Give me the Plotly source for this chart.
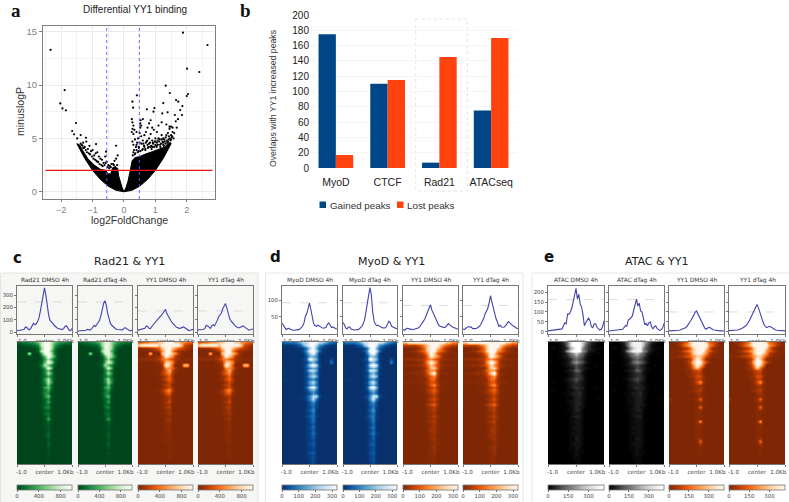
import plotly.graph_objects as go

W, H = 789, 502

# ---------- panel a data ----------
VOLCANO_X = [-2.34,-1.89,-2.03,-1.96,-1.85,-1.53,-1.65,-1.59,-1.38,-1.49,-1.21,-0.89,-0.25,-0.57,
 1.88,2.66,2.01,2.40,1.33,1.46,2.04,2.0,0.41,0.27,1.25,1.66,1.73,0.29,0.73,0.97,0.94,1.22,1.39,1.79,1.86,1.85,1.62,
 .25,.27,.3,.27,.33,.25,.3,.4,.45,.5,.55,.52,.55,.53,.6,.52,.35,.27,.3,.38,.42,.47,.6,.65,.7,.75,.8,.85,.9,.95,.85,.8,.7,.75,.65,.9,1.0,1.05,1.1,1.15,1.2,1.25,1.3,1.35,1.4,1.45,1.5,1.55,1.6,1.45,1.35,1.2,1.1,1.05,1.0,0.9,1.25,1.4,1.55,1.65,1.72,1.68,1.5,1.48,
 -1.4,-1.35,-1.3,-1.25,-1.2,-1.15,-1.1,-1.05,-1,-.95,-.9,-.85,-.8,-.75,-.7,-.65,-.6,-.55,-.5,-.45,-.4,-.3,-.25,-.22,-.2,-.28,-1.3,-1.22,-1.12,-.92,-.85,-.62,
 .28,.32,.36,.4,.44,.48,.52,.56,.6,.64,.68,.72,.76,.8,.84,.88,.92,.96,1.0,1.04,1.08,1.12,1.16,1.2,1.24,1.28,1.32,1.36,1.42,1.46,1.5,1.54,1.58,
 .3,.34,.4,.46,.5,.58,.62,.68,.74,.78,.83,.87,.93,.98,1.03,1.07,1.14,1.18,1.23,1.27,1.33,1.38,1.43,1.47,1.52,
 -1.38,-1.32,-1.27,-1.18,-1.08,-1.02,-.97,-.88,-.82,-.78,-.72,-.68,-.58,-.52,-.47,-.35,-.32,-.42]
VOLCANO_Y = [13.3,9.53,8.28,7.81,7.63,6.44,5.69,5.38,5.31,5.0,5.06,4.47,4.31,3.75,
 14.9,13.75,11.53,11.22,9.94,9.25,9.16,8.97,9.03,8.44,8.31,8.59,8.44,7.88,7.72,7.84,7.5,7.34,7.44,7.66,8.03,7.19,7.19,
 6.8,6.5,6.2,5.9,5.8,5.6,5.4,5.6,5.0,5.5,5.2,6.0,6.2,6.7,6.8,6.4,4.9,4.7,4.4,4.2,4.6,4.2,4.8,5.3,5.6,6.0,6.4,6.7,6.0,5.8,5.4,5.0,4.6,4.4,4.2,4.8,5.0,4.6,5.0,4.4,5.3,5.0,4.7,5.3,5.5,5.9,5.3,5.6,5.5,6.1,6.3,6.5,6.2,5.6,4.4,4.2,4.4,4.7,6.0,6.6,6.8,6.0,6.1,4.8,
 4.2,4.4,4.6,4.2,4.7,4.0,4.3,3.8,3.9,3.4,3.6,3.7,3.3,3.1,3.0,2.7,3.3,2.8,2.5,2.4,2.6,2.9,3.1,2.5,3.4,2.3,4.1,3.9,3.6,3.0,2.8,2.5,
 3.4,3.9,3.6,4.4,3.7,4.1,3.8,4.5,4.0,4.3,3.9,4.7,4.1,4.5,4.2,4.0,4.6,4.2,4.7,4.2,4.4,4.7,4.2,4.9,4.6,4.9,4.5,4.8,4.9,5.0,4.9,5.2,5.0,
 3.7,3.5,3.9,3.8,4.6,3.9,4.5,4.0,4.8,4.2,4.6,4.3,4.5,4.7,4.3,4.8,4.9,4.5,4.7,4.3,5.1,4.6,5.2,4.5,5.1,
 4.5,4.3,4.1,3.7,3.5,3.3,3.1,2.9,2.8,2.6,2.5,2.4,2.7,2.3,2.2,2.6,2.5,2.3]
MASS_LEFT_X = [0,-.1,-.25,-.5,-.75,-1,-1.25,-1.5,-1.42,-1.3,-1.15,-.95,-.75,-.58,-.5,-.42,-.36,-.3,-.2,-.17,-.13,-.06,0]
MASS_LEFT_Y = [0,.03,.13,.52,1.15,2,3.12,4.5,4.4,3.8,3.1,2.5,2.1,2.0,1.65,1.7,2.25,2.3,2.2,1.5,1,.4,0]
MASS_RIGHT_X = [0,.25,.5,.75,1,1.25,1.5,1.45,1.3,1.1,.9,.7,.5,.35,.26,.2,.13,.06,0]
MASS_RIGHT_Y = [0,.13,.52,1.15,2,3.12,4.5,4.65,4.2,3.95,3.75,3.55,3.3,3.2,2.9,2.0,1.0,.35,0]
FC_CUTS = [-0.55, 0.49]
P_CUT = 2
P_CUT_X = [-2.5, 2.82]

# ---------- panel b data ----------
BAR_CATS = ["MyoD", "CTCF", "Rad21", "ATACseq"]
GAINED = [175, 110, 7, 75]
LOST = [17, 115, 145, 170]

# ---------- profile data (-1 kb .. +1 kb) ----------
PROFILE_N = 41
C_PROFILES = [
 [10,12,12,10,14,20,38,40,25,18,30,50,70,60,65,85,115,170,240,300,360,300,210,140,95,85,70,55,40,35,28,25,22,20,30,48,50,30,15,12,28],
 [8,9,8,8,10,12,14,22,18,16,25,40,55,45,60,75,95,135,190,235,255,215,150,100,70,55,42,32,25,20,18,16,14,18,30,35,28,16,12,10,16],
 [15,18,18,20,22,30,50,45,30,28,45,60,65,85,105,115,125,135,150,170,185,150,125,105,90,75,60,45,38,35,30,32,38,42,35,28,18,12,15,18,22],
 [18,20,20,18,20,30,55,50,35,30,50,60,50,70,95,125,140,155,190,215,232,195,140,110,90,80,65,50,40,35,35,40,45,50,40,30,22,15,18,20,25],
]
D_PROFILES = [
 [32,25,16,12,15,16,13,11,10,10,10,11,12,14,18,22,32,52,60,78,92,72,45,30,24,22,25,22,19,18,16,16,18,28,32,26,18,20,17,14,13],
 [33,27,17,14,20,20,14,12,11,11,11,12,14,17,22,30,42,65,95,115,137,115,65,38,28,24,25,22,20,18,17,17,20,32,37,33,22,20,18,15,14],
 [12,10,13,16,15,13,14,12,13,14,15,17,20,25,30,38,45,55,62,72,86,70,60,50,42,35,25,22,20,19,18,20,26,30,26,22,20,18,16,14,13],
 [14,12,16,20,21,19,20,15,14,15,16,18,22,28,35,45,58,65,75,92,113,95,75,55,45,35,22,25,20,19,20,24,32,36,33,28,24,22,18,16,15],
]
E_PROFILES = [
 [4,5,5,5,6,7,8,9,10,12,14,30,45,40,90,88,100,120,150,185,220,165,190,140,125,85,30,45,60,70,55,25,20,40,40,22,15,8,12,25,55],
 [3,4,4,4,5,6,7,7,8,9,12,22,30,28,60,62,70,80,110,135,165,130,145,105,100,70,35,42,30,45,50,25,15,25,30,15,10,6,10,18,42],
 [4,4,4,4,5,5,6,7,8,10,12,15,20,26,35,45,58,70,85,98,105,90,72,55,42,30,18,12,15,22,20,14,10,8,6,7,6,4,4,3,3],
 [5,5,5,5,6,7,8,10,12,16,20,24,30,38,48,62,78,95,112,128,138,122,95,72,55,38,25,20,22,27,24,18,12,10,7,6,5,5,4,4,4],
]
C_REF = [245, 245, 172, 172]
D_REF = [92, 92, 84, 84]
E_REF = [163, 163, 100, 100]

# ---------- heatmap intensity (digit 0..9, top row first) ----------
DIGIT_LEVELS = [0, .025, .06, .11, .17, .25, .35, .5, .72, 1.0]
GREEN_C = [
"3344556789987655443","1112233589986431111","0000011379985210000","0000001289974100000",
"0000800069984100000","0000000037986100000","0000000016863100000","0000000127984000000",
"0000001148752000000","0000000026970000000","0000000015741000000","0000000015860000000",
"0000000024640000000","0000000016851000000","0000000025860000000","0000000014730000000",
"0000000026740000000","0000000014620000000","0000000025510000000","0000000015720000000",
"0000000013510000000","0000000003620000000","0000000013400000000","0000000014510000000",
"0000000002310000000","0000000003410000000","0000000002400000000","0000000002620000000",
"0000000001300000000","0000000001210000000","0000000001200000000","0000000000200000000",
"0000000001300000000","0000000001300000000","0000000000200000000","0000000000200000000",
"0000000000300000000","0000000000200000000","0000000000100000000","0000000000200000000",
"0000000000100000000","0000000000100000000","0000000000100000000","0000000000100000000",
]
ORANGE_C = [
"5566777889998877665","8999999899999985431","1122345689987654321","0000012479975322100",
"0000800089987410000","0001112269874210000","2222223467653211111","0000001248873110000",
"0000000139860008800","0000001127763100000","0000000036851000000","0000001146741000000",
"0000000024630000000","0000000125640000000","0000000013530000000","0000000024510000000",
"0000000013530000000","0000001136741000000","0000000125620000000","0000000013410000000",
"0000000012410000000","0000000013510000000","0000000012300000000","0000000013400000000",
"0000000002300000000","0000000012310000000","0000000001200000000","0000000002300000000",
"0000000001200000000","0000000001200000000","0000000001100000000","0000000001200000000",
"0000000001100000000","0000000001100000000","0000000001100000000","0000000001100000000",
"0000000000100000000","0000000000100000000","0000000000100000000","0000000000100000000",
"0000000000100000000","0000000000100000000","0000000000000000000","0000000000000000000",
]
BLUE_D = [
"4555567889998876544","1111234789986532111","0000011258974210000","0000001369985100000",
"0000000158972000000","0000000137761000000","0000000249872000300","1000000126751000500",
"0000000148983000000","0000000136762000000","1100000148871000000","0000000126751000000",
"0000000137871000000","1110000125641000000","0000000137860000000","0000000126751000000",
"0000000148971000000","0000000126750000000","0000000014640000000","0000001136883110000",
"0000000126851000000","0000000014630000000","0000000014530000000","0000000013520000000",
"0000000024620000000","0000000013510000000","0000000024520000000","0000000013510000000",
"0000000013510000000","0000000012410000000","0000000013510000000","0000000012410000000",
"0000000013520000000","0000000012410000000","0000000012410000000","0000000012310000000",
"0000000013410000000","0000000012310000000","0000000012310000000","0000000013410000000",
"0000000012310000000","0000000002310000000","0000000002310000000","0000000001200000000",
]
ORANGE_D = [
"8899999999999988776","4444456789998765443","0000124689987532100","0012245689976532100",
"1000123579864321110","0000012369875210000","2222233467653221111","0000012479862100000",
"1112223468753211100","0000001258862100000","0000012367741000000","1111222358951110000",
"0000011246741000000","0000001136630000000","1111111235531110000","0000001136741000000",
"0000000124530000000","0000011135641100000","0000000124530000000","0000000013420000000",
"0000000024530000000","1000000013420000000","0000000135630000000","0000000023420000000",
"0000000013410000000","0000000012310000000","0000000013420000000","0000000012310000000",
"0000000023410000000","0000000012310000000","0000000002310000000","0000000013310000000",
"0000000002310000000","0000000012210000000","0000000002310000000","0000000001210000000",
"0000000001210000000","0000000002300000000","0000000001200000000","0000000001200000000",
"0000000001200000000","0000000001100000000","0000000001100000000","0000000001100000000",
]
GRAY_E = [
"0001246899987532100","0000136899986421000","0110124789975421110","0000137899976321000",
"1000124678764210100","0000123567653100000","0000012356542100000","1100012467653100000",
"0000012345431001000","0000001235432100000","0000012346531000000","0100001234421000010",
"0000001234431000000","0000012345431000000","0010001234321000000","0000001233321000000",
"0000001234331001000","0110001123321000000","0000011233421000000","0000001123321000000",
"0000001123321000100","0000001223320000000","0000001123321000000","0000000123220000000",
"0000001123310000000","0000000122210000000","0000000123310000000","0000000112210000000",
"0000000122210000000","0000000112210000000","0000000122210000000","0000000112210000000",
"0000000122210000000","0000000112210000000","0000000113210000000","0000000112210000000",
"0000000122210000000","0000000112200000000","0000000112110000000","0000000012110000000",
"0000000012100000000","0000000011100000000","0000000001100000000","0000000001100000000",
]
ORANGE_E = [
"0012356899998654210","0012467899999764211","0000134689998621000","0112356789997642111",
"0000134689987421000","1112345678875311100","0000012479862100000","0000013589975200000",
"0000002479860000000","0000012368630000000","0000001245510000000","0000001134410000000",
"0000001235520000000","0000000124410000000","0000000125730000000","0000000113310000000",
"0000000012310000000","0000000123410000000","0000000002300000000","0000000001210000000",
"3000000012610000000","0000000001210000000","0000000001200000000","0000000001610000000",
"0000000001200000000","0000000001100000000","0000000001100000000","0000000001100000000",
"0000000002700000000","0000000001200000000","0000000001100000000","0000000001100000000",
"0000000001100000000","0000000001100000000","0000000001200000000","0000000001600000000",
"0000000000300000000","0000000000100000000","0000000000100000000","0000000000100000000",
"0000000000100000000","0000000000000000000","0000000000000000000","0000000000000000000",
]
MATRICES = dict(gc=GREEN_C, oc=ORANGE_C, bd=BLUE_D, od=ORANGE_D, ge=GRAY_E, oe=ORANGE_E)
GAINS = dict(c=[1.0, 0.88, 1.0, 1.0], d=[1.0, 1.12, 1.0, 1.1], e=[1.0, 0.9, 1.0, 1.05])

C_TITLES = ["Rad21 DMSO 4h", "Rad21 dTag 4h", "YY1 DMSO 4h", "YY1 dTag 4h"]
D_TITLES = ["MyoD DMSO 4h", "MyoD dTag 4h", "YY1 DMSO 4h", "YY1 dTag 4h"]
E_TITLES = ["ATAC DMSO 4h", "ATAC dTag 4h", "YY1 DMSO 4h", "YY1 dTag 4h"]

# ---------- helpers ----------
def fx(p): return p / W
def fy(p): return 1 - p / H
def dom_x(a, b): return [fx(a), fx(b)]
def dom_y(top, bot): return [fy(bot), fy(top)]

fig = go.Figure()
layout_axes = {}
axis_no = [0]
def new_axes(xcfg, ycfg):
    axis_no[0] += 1
    n = axis_no[0]
    s = "" if n == 1 else str(n)
    xcfg = dict(xcfg, anchor="y" + s)
    ycfg = dict(ycfg, anchor="x" + s)
    layout_axes["xaxis" + s] = xcfg
    layout_axes["yaxis" + s] = ycfg
    return "x" + s, "y" + s

SANS = "Liberation Sans"
DJ = "DejaVu Sans"
annots = []
def text(x, y, s, size, font=SANS, color="#222", bold=False, angle=0, xanchor="center"):
    annots.append(dict(x=fx(x), y=fy(y), xref="paper", yref="paper", text=("<b>%s</b>" % s) if bold else s,
                       showarrow=False, font=dict(family=font, size=size, color=color), textangle=angle,
                       xanchor=xanchor, yanchor="middle", borderpad=0, bgcolor="rgba(0,0,0,0)"))

shapes = []
def rect(x0, y0, x1, y1, fill=None, line="rgba(0,0,0,0)", width=1, dash="solid", layer="below"):
    shapes.append(dict(type="rect", xref="paper", yref="paper", x0=fx(x0), x1=fx(x1), y0=fy(y0), y1=fy(y1),
                       fillcolor=fill or "rgba(0,0,0,0)", line=dict(color=line, width=width, dash=dash), layer=layer))

# ---------- panel backgrounds ----------
rect(0.5, 273, 258, 503, fill="#f6f6f4", line="#e4e4e4")
rect(265.5, 273, 523, 503, fill="#ffffff", line="#e8e8e8")
rect(532, 273, 790, 503, fill="#ffffff", line="#e8e8e8")

# ---------- panel a ----------
GRAY = "#7f7f7f"
xa, ya = new_axes(
    dict(domain=dom_x(43, 215), range=[-2.58, 2.9], tickvals=[-2, -1, 0, 1, 2], ticktext=["\u22122", "\u22121", "0", "1", "2"],
         showgrid=True, gridcolor="#ebebeb", gridwidth=1, zeroline=False, showline=True, mirror=True, linecolor=GRAY, linewidth=1,
         ticks="outside", ticklen=2, tickcolor=GRAY, tickfont=dict(family=SANS, size=9, color=GRAY),
         minor=dict(dtick=0.5, showgrid=True, gridcolor="#f3f3f3", gridwidth=0.5)),
    dict(domain=dom_y(26, 199), range=[-0.68, 15.53], tickvals=[0, 5, 10, 15],
         showgrid=True, gridcolor="#ebebeb", gridwidth=1, zeroline=False, showline=True, mirror=True, linecolor=GRAY, linewidth=1,
         ticks="outside", ticklen=3, tickcolor=GRAY, tickfont=dict(family=SANS, size=9.5, color=GRAY),
         minor=dict(dtick=2.5, showgrid=True, gridcolor="#f3f3f3", gridwidth=0.5)))
for mx, my in ((MASS_LEFT_X, MASS_LEFT_Y), (MASS_RIGHT_X, MASS_RIGHT_Y)):
    fig.add_trace(go.Scatter(x=mx, y=my, mode="lines", fill="toself", fillcolor="black", line=dict(color="black", width=1),
                             xaxis=xa, yaxis=ya, showlegend=False))
fig.add_trace(go.Scatter(x=VOLCANO_X, y=VOLCANO_Y, mode="markers", marker=dict(color="black", size=2.2),
                         xaxis=xa, yaxis=ya, showlegend=False))
for c in FC_CUTS:
    fig.add_trace(go.Scatter(x=[c, c], y=[-0.68, 15.53], mode="lines", line=dict(color="#5a5aff", width=0.9, dash="dot"),
                             xaxis=xa, yaxis=ya, showlegend=False))
fig.add_trace(go.Scatter(x=P_CUT_X, y=[P_CUT, P_CUT], mode="lines", line=dict(color="#ee1111", width=1.4),
                         xaxis=xa, yaxis=ya, showlegend=False))
text(135, 10, "Differential YY1 binding", 10)
text(129, 220, "log2FoldChange", 10.5, color="#333")
text(20, 112, "minuslogP", 10.5, color="#333", angle=-90)

# ---------- panel b ----------
BLUE, ORANGE = "#004586", "#ff420e"
xb, yb = new_axes(
    dict(domain=dom_x(310, 517), type="category", categoryorder="array", categoryarray=BAR_CATS, range=[-0.5, 3.5],
         showgrid=False, zeroline=False, showline=False, ticks="", ticklabelstandoff=6, tickfont=dict(family=SANS, size=10.5, color="#222")),
    dict(domain=dom_y(15, 168), range=[0, 200], dtick=20, showgrid=True, gridcolor="#f6f6f6", gridwidth=0.6, zeroline=False,
         ticks="", tickfont=dict(family=SANS, size=10, color="#222"),
         title=None))
fig.add_trace(go.Bar(x=BAR_CATS, y=GAINED, name="Gained peaks", marker=dict(color=BLUE, line=dict(width=0)), xaxis=xb, yaxis=yb, showlegend=False))
fig.add_trace(go.Bar(x=BAR_CATS, y=LOST, name="Lost peaks", marker=dict(color=ORANGE, line=dict(width=0)), xaxis=xb, yaxis=yb, showlegend=False))
text(273, 98, "Overlaps with YY1 increased peaks", 8.7, color="#333", angle=-90)
rect(415.7, 19, 467.3, 191, line="#dddddd", width=0.8, dash="dot")
rect(319.5, 201.5, 326, 208, fill=BLUE)
rect(397, 201.5, 403.5, 208, fill=ORANGE)
text(329, 205, "Gained peaks", 9.8, xanchor="left", color="#333")
text(406, 205, "Lost peaks", 9.8, xanchor="left", color="#333")

# ---------- heat panels ----------
LINE = "#777777"
def draw_group(boxes, titles, profiles, refs, prange, yticks, mats, scales, gains, zmax, cticks):
    for i, (a, b) in enumerate(boxes):
        xp = [-1 + 2 * k / (PROFILE_N - 1) for k in range(PROFILE_N)]
        xx, yy = new_axes(
            dict(domain=dom_x(a, b), range=[-1, 1], tickvals=[-0.84, 0, 0.76], ticktext=["-1.0", "center", "1.0Kb"], ticks="",
                 tickfont=dict(family=DJ, size=5.6, color="#444"), showgrid=False, zeroline=False, showline=True, mirror=True,
                 linecolor=LINE, linewidth=0.9, ticklabelstandoff=1,
                 minor=dict(tickvals=[-1, 0, 1], ticks="outside", ticklen=2, tickcolor=LINE, tickwidth=0.6)),
            dict(domain=dom_y(286, 334), range=prange, tickvals=yticks, ticks="outside", ticklen=2, tickcolor=LINE, tickwidth=0.6,
                 showticklabels=(i == 0), tickfont=dict(family=DJ, size=5.4, color="#444"), showgrid=False, zeroline=False,
                 showline=True, mirror=True, linecolor=LINE, linewidth=0.9))
        fig.add_trace(go.Scatter(x=[-1, 1], y=[refs[i], refs[i]], mode="lines", line=dict(color="#cfcfcf", width=0.7, dash="dash"),
                                 xaxis=xx, yaxis=yy, showlegend=False))
        fig.add_trace(go.Scatter(x=xp, y=profiles[i], mode="lines", line=dict(color="#4343ac", width=1.1),
                                 xaxis=xx, yaxis=yy, showlegend=False))
        text((a + b) / 2, 280, titles[i], 5.9, font=DJ, color="#333")
    for i, (a, b) in enumerate(boxes):
        rows = MATRICES[mats[i]]
        z = [[DIGIT_LEVELS[int(ch)] * zmax * gains[i] for ch in r[:19].ljust(19, "0")] for r in rows]
        xh = [-1 + 2 * k / 18 for k in range(19)]
        yh = [k for k in range(len(rows))]
        xx, yy = new_axes(
            dict(domain=dom_x(a, b), range=[-1, 1], tickvals=[-0.84, 0, 0.76], ticktext=["-1.0", "center", "1.0Kb"], ticks="",
                 tickfont=dict(family=DJ, size=5.6, color="#444"), showgrid=False, zeroline=False, showline=True, mirror=True,
                 linecolor=LINE, linewidth=0.6, ticklabelstandoff=2,
                 minor=dict(tickvals=[-1, 0, 1], ticks="outside", ticklen=2, tickcolor=LINE, tickwidth=0.6)),
            dict(domain=dom_y(342, 464), range=[len(rows) - 1, 0], showticklabels=False, ticks="", showgrid=False, zeroline=False,
                 showline=False))
        fig.add_trace(go.Heatmap(x=xh, y=yh, z=z, zmin=0, zmax=zmax, zsmooth="best", colorscale=scales[i], hoverinfo="skip",
                                 xaxis=xx, yaxis=yy,
                                 colorbar=dict(orientation="h", lenmode="pixels", len=b - a, thicknessmode="pixels", thickness=5,
                                               x=fx(a), xanchor="left", y=fy(485), yanchor="top", xpad=0, ypad=0,
                                               outlinecolor=LINE, outlinewidth=0.8, tickvals=cticks, ticks="outside", ticklen=2,
                                               tickcolor=LINE, tickwidth=0.6, tickfont=dict(family=DJ, size=5.4, color="#444"))))

draw_group([(17, 72), (78, 132), (138, 193), (198, 253)], C_TITLES, C_PROFILES, C_REF, [-16, 375], [0, 100, 200, 300],
           ["gc", "gc", "oc", "oc"], ["Greens_r", "Greens_r", "Oranges_r", "Oranges_r"], GAINS["c"], 1010, [0, 400, 800])
draw_group([(282, 337), (343, 397), (403, 458), (463, 518)], D_TITLES, D_PROFILES, D_REF, [-1, 142], [50, 100],
           ["bd", "bd", "od", "od"], ["Blues_r", "Blues_r", "Oranges_r", "Oranges_r"], GAINS["d"], 330, [0, 100, 200, 300])
draw_group([(548, 604), (609, 664), (669, 724), (729, 785)], E_TITLES, E_PROFILES, E_REF, [-12, 232], [0, 50, 100, 150, 200],
           ["ge", "ge", "oe", "oe"], ["Greys_r", "Greys_r", "Oranges_r", "Oranges_r"], GAINS["e"], 415, [0, 150, 300])

text(129, 261, "Rad21 &amp; YY1", 11, font=DJ, color="#222")
text(391, 261, "MyoD &amp; YY1", 11, font=DJ, color="#222")
text(657, 261, "ATAC &amp; YY1", 11, font=DJ, color="#222")
text(16, 11, "a", 19, font="Liberation Serif", color="#111", bold=True)
text(245, 11, "b", 19, font="Liberation Serif", color="#111", bold=True)
text(17, 258, "c", 15, font=DJ, color="#111", bold=True)
text(275, 257, "d", 15, font=DJ, color="#111", bold=True)
text(549, 257, "e", 15, font=DJ, color="#111", bold=True)

fig.update_layout(width=W, height=H, margin=dict(l=0, r=0, t=0, b=0, pad=0, autoexpand=False), paper_bgcolor="white",
                  plot_bgcolor="rgba(0,0,0,0)", barmode="group", bargap=0.33, bargroupgap=0, showlegend=False,
                  annotations=annots, shapes=shapes, **layout_axes)
fig.write_html("out.html", config=dict(displayModeBar=False),
               post_script="document.body.style.margin='0';document.body.style.overflow='hidden';")
